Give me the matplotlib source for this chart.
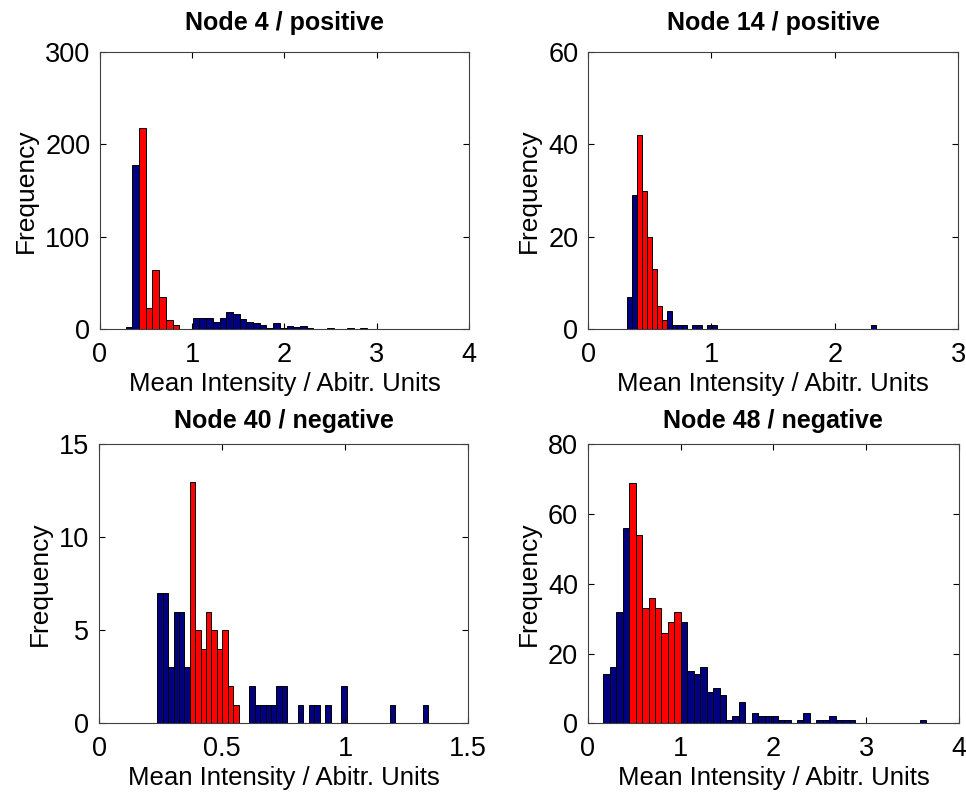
import numpy as np
import matplotlib
matplotlib.use("Agg")
import matplotlib.pyplot as plt

plt.rcParams['font.family'] = ['Liberation Sans', 'DejaVu Sans']

# histogram counts, 50 bins per node (bin range = data min/max)
titles = ['Node 4 / positive', 'Node 14 / positive', 'Node 40 / negative', 'Node 48 / negative']

node4_range = (0.278, 3.913)
node4_counts = [3, 178, 217, 23, 64, 35, 10, 5, 1, 0,
                12, 12, 12, 8, 12, 19, 17, 11, 8, 7,
                5, 2, 7, 2, 4, 3, 4, 2, 1, 1,
                2, 0, 1, 2, 1, 2, 1, 1, 0, 0,
                0, 0, 0, 0, 0, 0, 0, 0, 0, 1]
node4_red = (2, 8)

node14_range = (0.313, 2.335)
node14_counts = [7, 29, 42, 30, 20, 13, 5, 2, 4, 1,
                 1, 1, 0, 1, 1, 0, 1, 1, 0, 0,
                 0, 0, 0, 0, 0, 0, 0, 0, 0, 0,
                 0, 0, 0, 0, 0, 0, 0, 0, 0, 0,
                 0, 0, 0, 0, 0, 0, 0, 0, 0, 1]
node14_red = (2, 7)

node40_range = (0.237, 1.337)
node40_counts = [7, 7, 3, 6, 6, 3, 13, 5, 4, 6,
                 5, 4, 5, 2, 1, 0, 0, 2, 1, 1,
                 1, 1, 2, 2, 0, 0, 1, 0, 1, 1,
                 0, 1, 0, 0, 2, 0, 0, 0, 0, 0,
                 0, 0, 0, 1, 0, 0, 0, 0, 0, 1]
node40_red = (6, 14)

node48_range = (0.168, 3.646)
node48_counts = [14, 16, 32, 56, 69, 54, 33, 36, 33, 26,
                 29, 32, 29, 15, 14, 16, 9, 10, 8, 1,
                 2, 6, 0, 3, 2, 2, 2, 1, 1, 0,
                 1, 3, 0, 1, 1, 2, 1, 1, 1, 0,
                 0, 0, 0, 0, 0, 0, 0, 0, 0, 1]
node48_red = (4, 11)

xlims = [(0, 4), (0, 3), (0, 1.5), (0, 4)]
xticks = [[0, 1, 2, 3, 4], [0, 1, 2, 3], [0, 0.5, 1, 1.5], [0, 1, 2, 3, 4]]
ylims = [(0, 300), (0, 60), (0, 15), (0, 80)]
yticks = [[0, 100, 200, 300], [0, 20, 40, 60], [0, 5, 10, 15], [0, 20, 40, 60, 80]]

ranges = [node4_range, node14_range, node40_range, node48_range]
counts = [node4_counts, node14_counts, node40_counts, node48_counts]
reds = [node4_red, node14_red, node40_red, node48_red]

fig = plt.figure(figsize=(9.66, 7.93), dpi=100)
positions = [[0.1035, 0.5845, 0.382, 0.3505],
             [0.6087, 0.5845, 0.3835, 0.3505],
             [0.1025, 0.0879, 0.382, 0.3518],
             [0.6084, 0.0879, 0.3844, 0.3518]]
title_pad = [15.5, 15.5, 12, 12]

for k in range(4):
    ax = fig.add_axes(positions[k])
    c = np.array(counts[k])
    edges = np.linspace(ranges[k][0], ranges[k][1], len(c) + 1)
    w = edges[1] - edges[0]
    lo, hi = reds[k]
    colors = ['#ff0000' if lo <= i <= hi else '#000080' for i in range(len(c))]
    ax.bar(edges[:-1], c, width=w, align='edge', color=colors,
           edgecolor='black', linewidth=0.7)
    ax.set_xlim(xlims[k])
    ax.set_ylim(ylims[k])
    ax.set_xticks(xticks[k])
    ax.set_xticklabels([('%g' % t) for t in xticks[k]])
    ax.set_yticks(yticks[k])
    ax.tick_params(direction='in', top=True, right=True, length=4,
                   labelsize=19.5, width=0.8)
    ax.tick_params(axis='x', pad=9)
    ax.tick_params(axis='y', pad=7)
    for s in ax.spines.values():
        s.set_linewidth(0.8)
        s.set_color('#404040')
    ax.set_title(titles[k], fontsize=18, fontweight='bold', pad=title_pad[k])
    ax.set_xlabel('Mean Intensity / Abitr. Units', fontsize=18.5, labelpad=3)
    ax.set_ylabel('Frequency', fontsize=19, labelpad=5)

fig.savefig('out.png', dpi=100)
